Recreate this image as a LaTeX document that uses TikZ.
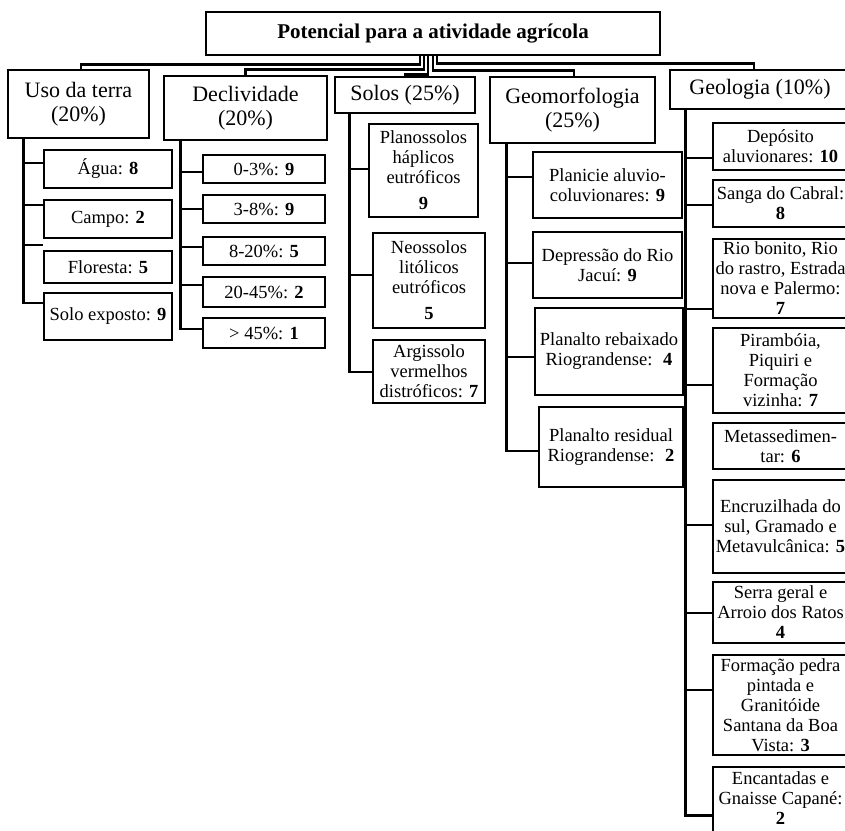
\documentclass[tikz,border=0pt]{standalone}
\usepackage{fontspec}
\setmainfont{Liberation Serif}
\tikzset{
  bx/.style={draw, line width=2.8pt, fill=white, align=center, inner sep=1pt, font=\fontsize{18.5}{20}\selectfont},
  cat/.style={bx, font=\fontsize{22}{23.5}\selectfont},
  rootbox/.style={bx, font=\fontsize{21}{23}\selectfont\bfseries},
  conn/.style={line width=2.8pt, line join=miter}
}
\begin{document}
\begin{tikzpicture}[x=1pt,y=-1pt]
\useasboundingbox (0,0) rectangle (845,830);
\clip (0,0) rectangle (845,830);
\fill[white] (0,0) rectangle (845,830);

% root and categories
\node[rootbox, minimum width=454, minimum height=43] (root) at (433,33.5) {Potencial para a atividade agrícola};
\node[cat, minimum width=141, minimum height=68] (uso) at (78.5,104) {Uso da terra\\(20\%)};
\node[cat, minimum width=163, minimum height=64] (decl) at (245.5,108) {Declividade\\(20\%)};
\node[cat, minimum width=140, minimum height=36] (solos) at (405,95) {Solos (25\%)};
\node[cat, minimum width=165, minimum height=66] (geom) at (572.5,110) {Geomorfologia\\(25\%)};
\node[cat, minimum width=180, minimum height=39] (geol) at (760,89.5) {Geologia (10\%)};

% Uso da terra
\node[bx, minimum width=128, minimum height=38] (agua) at (108,169) {Água: \textbf{8}};
\node[bx, minimum width=128, minimum height=38] (campo) at (108,219) {Campo: \textbf{2}};
\node[bx, minimum width=128, minimum height=32] (flor) at (108,267) {Floresta: \textbf{5}};
\node[bx, minimum width=128, minimum height=47] (solo) at (108,316.5) {Solo exposto: \textbf{9}};

% Declividade
\node[bx, minimum width=122, minimum height=28] (d1) at (264,169) {0-3\%: \textbf{9}};
\node[bx, minimum width=122, minimum height=28] (d2) at (264,209) {3-8\%: \textbf{9}};
\node[bx, minimum width=122, minimum height=28] (d3) at (264,251) {8-20\%: \textbf{5}};
\node[bx, minimum width=122, minimum height=30] (d4) at (264,292) {20-45\%: \textbf{2}};
\node[bx, minimum width=122, minimum height=30] (d5) at (264,333) {> 45\%: \textbf{1}};

% Solos
\node[bx, minimum width=109, minimum height=93] (s1) at (423.5,170.5) {Planossolos\\háplicos\\eutróficos\\[6pt]\textbf{9}};
\node[bx, minimum width=112, minimum height=95] (s2) at (429,280.5) {Neossolos\\litólicos\\eutróficos\\[6pt]\textbf{5}};
\node[bx, minimum width=112, minimum height=63] (s3) at (429,371.5) {Argissolo\\vermelhos\\distróficos: \textbf{7}};

% Geomorfologia
\node[bx, minimum width=149, minimum height=66] (g1) at (607.5,185) {Planicie aluvio-\\coluvionares: \textbf{9}};
\node[bx, minimum width=149, minimum height=66] (g2) at (607.5,265) {Depressão do Rio\\Jacuí: \textbf{9}};
\node[bx, minimum width=148, minimum height=87] (g3) at (609,351.5) {Planalto rebaixado\\Riograndense:~ \textbf{4}};
\node[bx, minimum width=144, minimum height=80] (g4) at (611,447) {Planalto residual\\Riograndense:~ \textbf{2}};

% Geologia
\node[bx, minimum width=135, minimum height=47] (h1) at (780.5,146.5) {Depósito\\aluvionares: \textbf{10}};
\node[bx, minimum width=135, minimum height=47] (h2) at (780.5,203.5) {Sanga do Cabral:\\\textbf{8}};
\node[bx, minimum width=135, minimum height=79] (h3) at (780.5,278.5) {Rio bonito, Rio\\do rastro, Estrada\\nova e Palermo:\\\textbf{7}};
\node[bx, minimum width=135, minimum height=85] (h4) at (780.5,370.5) {Pirambóia,\\Piquiri e\\Formação\\vizinha: \textbf{7}};
\node[bx, minimum width=135, minimum height=46] (h5) at (780.5,446) {Metassedimen-\\tar: \textbf{6}};
\node[bx, minimum width=135, minimum height=93] (h6) at (780.5,526.5) {Encruzilhada do\\sul, Gramado e\\Metavulcânica: \textbf{5}};
\node[bx, minimum width=135, minimum height=61] (h7) at (780.5,612.5) {Serra geral e\\Arroio dos Ratos\\\textbf{4}};
\node[bx, minimum width=135, minimum height=100] (h8) at (780.5,705) {Formação pedra\\pintada e\\Granitóide\\Santana da Boa\\Vista: \textbf{3}};
\node[bx, minimum width=135, minimum height=78] (h9) at (780.5,806) {Encantadas e\\Gnaisse Capané:\\\textbf{2}\rule[-15pt]{0pt}{0pt}};

% top connectors
\draw[conn] ([xshift=-13pt]root.south) -- ++(0,8) -| ([xshift=2.5pt]uso.north);
\draw[conn] ([xshift=-9pt]root.south) -- ++(0,13) -| (decl.north);
\draw[conn] ([xshift=-5pt]root.south) -- ++(0,18) -| (solos.north);
\draw[conn] ([xshift=0pt]root.south) -- ++(0,14) -| ([xshift=1.5pt]geom.north);
\draw[conn] ([xshift=4pt]root.south) -- ++(0,7) -| ([xshift=-6pt]geol.north);

% Uso da terra branches
\draw[conn] ([xshift=17pt]uso.south west) |- ([yshift=6pt]agua.west);
\draw[conn] ([xshift=17pt]uso.south west) |- ([yshift=14pt]campo.west);
\draw[conn] ([xshift=17pt]uso.south west) |- ([yshift=22pt]flor.west);
\draw[conn] ([xshift=17pt]uso.south west) |- ([yshift=13.5pt]solo.west);

% Declividade branches
\draw[conn] ([xshift=18pt]decl.south west) |- ([yshift=-3pt]d1.west);
\draw[conn] ([xshift=18pt]decl.south west) |- (d2.west);
\draw[conn] ([xshift=18pt]decl.south west) |- ([yshift=4pt]d3.west);
\draw[conn] ([xshift=18pt]decl.south west) |- ([yshift=7pt]d4.west);
\draw[conn] ([xshift=18pt]decl.south west) |- ([yshift=4pt]d5.west);

% Solos branches
\draw[conn] ([xshift=16pt]solos.south west) |- ([yshift=1.5pt]s1.west);
\draw[conn] ([xshift=16pt]solos.south west) |- ([yshift=5.5pt]s2.west);
\draw[conn] ([xshift=16pt]solos.south west) |- ([yshift=-0.5pt]s3.west);

% Geomorfologia branches
\draw[conn] ([xshift=18pt]geom.south west) |- ([yshift=8pt]g1.west);
\draw[conn] ([xshift=18pt]geom.south west) |- ([yshift=2pt]g2.west);
\draw[conn] ([xshift=18pt]geom.south west) |- ([yshift=-5.5pt]g3.west);
\draw[conn] ([xshift=18pt]geom.south west) |- ([yshift=-4pt]g4.west);

% Geologia branches
\draw[conn] ([xshift=17pt]geol.south west) |- ([yshift=-11.5pt]h1.west);
\draw[conn] ([xshift=17pt]geol.south west) |- ([yshift=-1.5pt]h2.west);
\draw[conn] ([xshift=17pt]geol.south west) |- ([yshift=-30.5pt]h3.west);
\draw[conn] ([xshift=17pt]geol.south west) |- ([yshift=-14.5pt]h4.west);
\draw[conn] ([xshift=17pt]geol.south west) |- ([yshift=1.5pt]h6.west);
\draw[conn] ([xshift=17pt]geol.south west) |- ([yshift=-0.5pt]h7.west);
\draw[conn] ([xshift=17pt]geol.south west) |- ([yshift=15pt]h8.west);
\draw[conn] ([xshift=17pt]geol.south west) |- ([yshift=-9.5pt]h9.west);
\end{tikzpicture}
\end{document}
